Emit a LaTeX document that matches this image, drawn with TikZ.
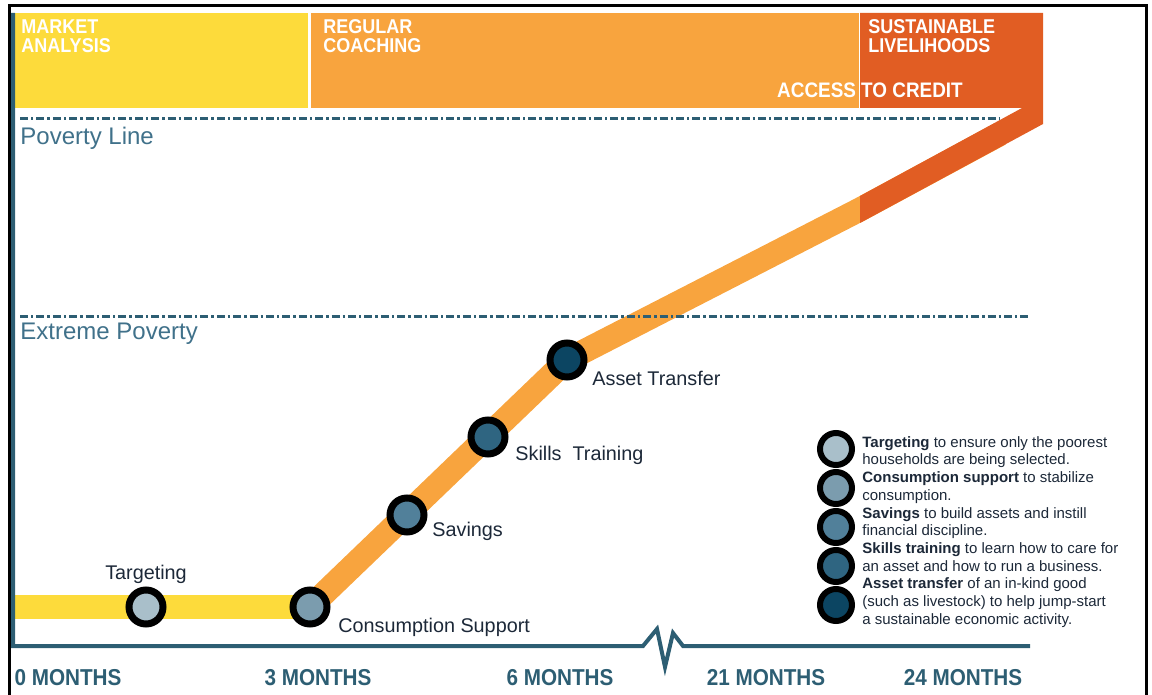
\documentclass[tikz,border=0pt]{standalone}
\usepackage{fontspec}
\setmainfont{Liberation Sans}
\newfontfamily\narrowfont[FakeStretch=0.9]{Liberation Sans}

\definecolor{bandyellow}{HTML}{FDDB3B}
\definecolor{bandorange}{HTML}{F8A43E}
\definecolor{bandred}{HTML}{E15D23}
\definecolor{axisblue}{HTML}{2D5E73}
\definecolor{levelblue}{HTML}{40718A}
\definecolor{inkblue}{HTML}{1C2838}
\definecolor{stageA}{HTML}{A9BFCA}
\definecolor{stageB}{HTML}{7B9CAE}
\definecolor{stageC}{HTML}{51809A}
\definecolor{stageD}{HTML}{2F6581}
\definecolor{stageE}{HTML}{0C4562}

\pgfdeclarelayer{back}
\pgfsetlayers{back,main}

\tikzset{
		header/.style={white, font=\narrowfont\bfseries\fontsize{10}{9.5}\selectfont, align=left, anchor=north west, inner sep=0pt},
		month/.style={axisblue, font=\narrowfont\bfseries\fontsize{11.5}{11.5}\selectfont, inner sep=0pt},
		level/.style={levelblue, font=\fontsize{12}{12}\selectfont, anchor=west, inner sep=0pt},
		levelline/.style={axisblue, line width=1.5pt, dash pattern=on 4pt off 1.5pt on 1.2pt off 1.5pt},
		axis/.style={axisblue, line width=2pt},
		route/.style={line width=12pt},
		stage/.style={circle, draw=black, line width=3.5pt, minimum size=17pt, inner sep=0pt},
		key/.style={circle, draw=black, line width=3pt, minimum size=16pt, inner sep=0pt},
		stagelabel/.style={inkblue, font=\fontsize{9.9}{9.9}\selectfont, inner sep=0pt},
		keytext/.style={inkblue, font=\fontsize{7.5}{8.85}\selectfont, align=left, anchor=north west, inner sep=0pt}
	}

\begin{document}
\begin{tikzpicture}[x=0.5pt, y=-0.5pt]
	\useasboundingbox (0,0) rectangle (1152,695);
	
	\draw[black, line width=1.5pt] (9,6) rectangle (1146,720);
	
	% stages on the route
	\node (tgt) at (146,607) [stage, fill=stageA] {};
	\node (cons) at (310,607) [stage, fill=stageB] {};
	\node (sav) at (407,515) [stage, fill=stageC] {};
	\node (skl) at (488,437) [stage, fill=stageD] {};
	\node (ast) at (567,360) [stage, fill=stageE] {};
	\coordinate (origin) at (15,607);
	\coordinate (edge) at (859,210);
	\coordinate (tip) at (1000,134);
	
	\begin{pgfonlayer}{back}
		\fill[bandyellow] (13,13) rectangle (308,108);
		\fill[bandorange] (311,13) rectangle (859,108);
		\draw[route, bandyellow] (origin) -- (cons.center);
		\draw[route, bandorange] (cons.center) -- (ast.center) -- (edge) -- (tip);
		\fill[bandred] (860,13) -- (1043,13) -- (1043,124) -- (860,223) -- (860,196) -- (1022,108) -- (860,108) -- cycle;
	\end{pgfonlayer}
	
	\draw[levelline] (20,119) -- (1000,119);
	\draw[levelline] (20,317) -- (1030,317);
	\node (pline) at (20,138) [level] {Poverty Line};
	\node (xline) at (20,334) [level] {Extreme Poverty};
	
	\draw[axis] (13,13) -- (13,646) -- (643,646) -- (657,629) -- (665,667) -- (673,633) -- (683,646) -- (1030,646);
	
	\node (market) at (21,19) [header] {MARKET\\ANALYSIS};
	\node (coach) at (323,19) [header] {REGULAR\\COACHING};
	\node (live) at (868,19) [header] {SUSTAINABLE\\LIVELIHOODS};
	\node (credit) at (870,90) [header, anchor=center, font=\narrowfont\bfseries\fontsize{10.5}{10.5}\selectfont] {ACCESS TO CREDIT};
	
	\node (m0) at (68,678) [month] {0 MONTHS};
	\node (m3) at (318,678) [month] {3 MONTHS};
	\node (m6) at (560,678) [month] {6 MONTHS};
	\node (m21) at (766,678) [month] {21 MONTHS};
	\node (m24) at (963,678) [month] {24 MONTHS};
	
	\node (tgtlabel) at (146,574) [stagelabel] {Targeting};
	\node (conslabel) at (338,627) [stagelabel, anchor=west] {Consumption Support};
	\node (savlabel) at (432,531) [stagelabel, anchor=west] {Savings};
	\node (skllabel) at (515,455) [stagelabel, anchor=west] {Skills\ \ Training};
	\node (astlabel) at (592,378) [stagelabel, anchor=west] {Asset Transfer};
	
	% legend
	\node (k1) at (836,449) [key, fill=stageA] {};
	\node (k2) at (836,488) [key, fill=stageB] {};
	\node (k3) at (836,527) [key, fill=stageC] {};
	\node (k4) at (836,566) [key, fill=stageD] {};
	\node (k5) at (836,605) [key, fill=stageE] {};
	\node (keys) at (862,436) [keytext] {\textbf{Targeting} to ensure only the poorest\\
		households are being selected.\\
		\textbf{Consumption support} to stabilize\\
		consumption.\\
		\textbf{Savings} to build assets and instill\\
		financial discipline.\\
		\textbf{Skills training} to learn how to care for\\
		an asset and how to run a business.\\
		\textbf{Asset transfer} of an in-kind good\\
		(such as livestock) to help jump-start\\
		a sustainable economic activity.};
	
\end{tikzpicture}
\end{document}
